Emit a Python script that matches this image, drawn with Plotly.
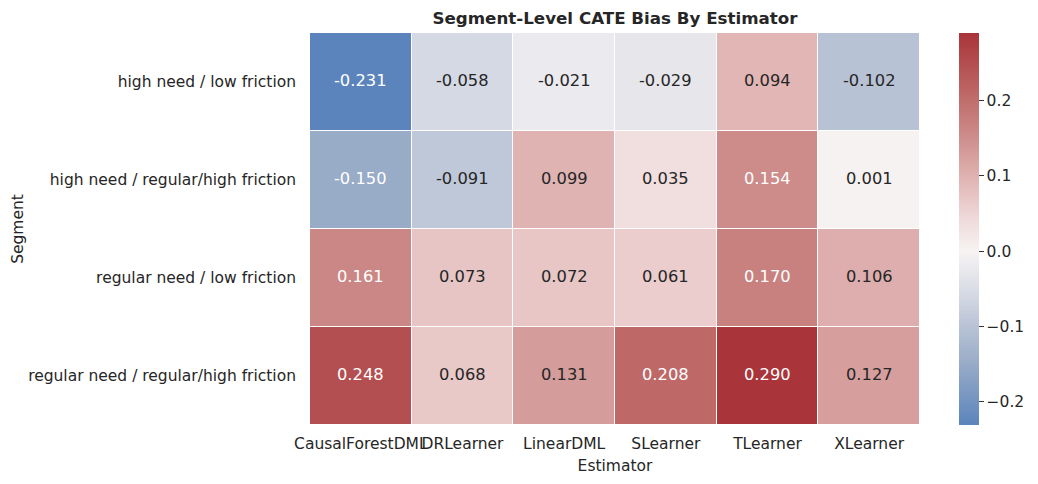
import plotly.graph_objects as go

estimators = ["CausalForestDML", "DRLearner", "LinearDML", "SLearner", "TLearner", "XLearner"]
segments = [
    "high need / low friction",
    "high need / regular/high friction",
    "regular need / low friction",
    "regular need / regular/high friction",
]
bias = [
    [-0.231, -0.058, -0.021, -0.029, 0.094, -0.102],
    [-0.150, -0.091, 0.099, 0.035, 0.154, 0.001],
    [0.161, 0.073, 0.072, 0.061, 0.170, 0.106],
    [0.248, 0.068, 0.131, 0.208, 0.290, 0.127],
]

zmin = min(min(r) for r in bias)
zmax = max(max(r) for r in bias)

# vlag-like stops (value, colour), recentered at 0 like seaborn's center=0
stops = [
    (-0.231, "#5b84bc"),
    (-0.150, "#98abc7"),
    (-0.100, "#b9c3d6"),
    (-0.050, "#dadde6"),
    (0.000, "#f7f3f3"),
    (0.050, "#eed5d5"),
    (0.100, "#dfb2b1"),
    (0.150, "#ce8e8c"),
    (0.200, "#c06e6c"),
    (0.290, "#a93439"),
]
colorscale = [[(v - zmin) / (zmax - zmin), c] for v, c in stops]

txt = "#262626"

fig = go.Figure(go.Heatmap(
    z=bias, x=estimators, y=segments,
    zmin=zmin, zmax=zmax, colorscale=colorscale,
    xgap=1, ygap=1,
    colorbar=dict(
        thickness=20, len=1, lenmode="fraction", y=0.5, yanchor="middle",
        x=1.064, xanchor="left", outlinewidth=0, xpad=0, ypad=0,
        tickvals=[-0.2, -0.1, 0.0, 0.1, 0.2], tickformat=".1f",
        ticks="outside", ticklen=5, tickwidth=1.3, tickcolor="#333333",
        tickfont=dict(size=15.5, color=txt),
    ),
))

for i, seg in enumerate(segments):
    for j, est in enumerate(estimators):
        v = bias[i][j]
        fig.add_annotation(
            x=est, y=seg, yshift=2, text=f"{v:.3f}", showarrow=False,
            font=dict(size=16.3, color="white" if abs(v) >= 0.15 else txt),
        )

# page body adds an 8px offset, so margins are shifted to compensate
fig.update_layout(
    width=1038, height=484,
    margin=dict(l=302, r=126, t=25, b=67, autoexpand=False),
    paper_bgcolor="white", plot_bgcolor="white",
    font=dict(family="DejaVu Sans", color=txt, size=15.5),
    title=dict(text="<b>Segment-Level CATE Bias By Estimator</b>", x=(302 + 305) / 1038,
               xanchor="center", y=1 - 10 / 484, yanchor="middle", font=dict(size=16.7, color=txt)),
    xaxis=dict(title=dict(text="Estimator", standoff=8, font=dict(size=15.5, color=txt)),
               showgrid=False, zeroline=False, automargin=False, tickangle=0,
               ticks="", ticklabelstandoff=7, tickfont=dict(size=15.5, color=txt)),
    yaxis=dict(title=dict(text="Segment", standoff=0, font=dict(size=15.5, color=txt)),
               showgrid=False, zeroline=False, automargin=False,
               autorange="reversed", ticks="", ticklabelstandoff=13,
               tickfont=dict(size=15.5, color=txt)),
)

fig.write_html("out.html")
